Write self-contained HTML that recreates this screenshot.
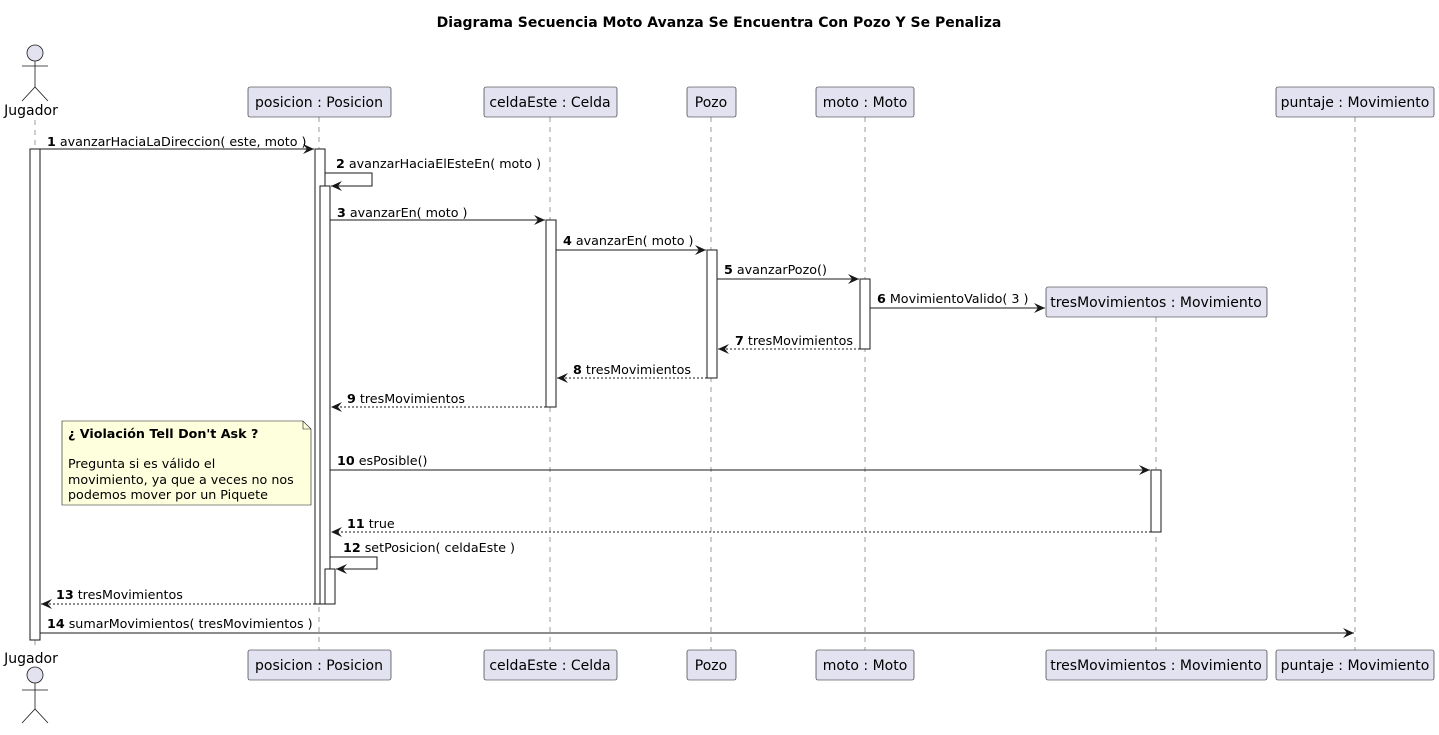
<!DOCTYPE html>
<html><head><meta charset="utf-8"><style>
html,body{margin:0;padding:0;background:#fff}
svg text{font-family:"DejaVu Sans","Liberation Sans",sans-serif;font-size:12.7px;fill:#000}
svg text.t{font-size:14px}
svg text.bx{font-size:14px}
.b{font-weight:bold}
.ll{stroke:#181818;stroke-width:0.6;stroke-dasharray:5,5;opacity:.7}
.box{fill:#E2E2F0;stroke:#181818;stroke-width:0.6}
.act{fill:#fff;stroke:#181818;stroke-width:1}
.m{stroke:#181818;stroke-width:1;fill:none}
.d{stroke:#181818;stroke-width:1;fill:none;stroke-dasharray:2,2}
</style></head><body>
<svg width="1439" height="730" xmlns="http://www.w3.org/2000/svg">
<defs><marker id="a" markerWidth="12" markerHeight="10" refX="11" refY="5" orient="auto" markerUnits="userSpaceOnUse"><path d="M0,0 L11,5 L0,10 L4,5 Z" fill="#181818"/></marker></defs>
<text x="719" y="27" text-anchor="middle" class="b t">Diagrama Secuencia Moto Avanza Se Encuentra Con Pozo Y Se Penaliza</text>
<line class="ll" x1="35" y1="120" x2="35" y2="650"/>
<line class="ll" x1="319" y1="117" x2="319" y2="650"/>
<line class="ll" x1="550" y1="117" x2="550" y2="650"/>
<line class="ll" x1="711" y1="117" x2="711" y2="650"/>
<line class="ll" x1="865" y1="117" x2="865" y2="650"/>
<line class="ll" x1="1156" y1="317" x2="1156" y2="650"/>
<line class="ll" x1="1355" y1="117" x2="1355" y2="650"/>
<g stroke="#181818" stroke-width="0.8" fill="none">
<circle cx="35" cy="53" r="8" fill="#E2E2F0"/><line x1="35" y1="61" x2="35" y2="87"/><line x1="22" y1="66" x2="48" y2="66"/><path d="M22,101 L35,87 L48,101"/>
<circle cx="35" cy="675" r="8" fill="#E2E2F0"/><line x1="35" y1="683" x2="35" y2="709"/><line x1="22" y1="690" x2="48" y2="690"/><path d="M22,723 L35,709 L48,723"/>
</g>
<text x="31" y="115" text-anchor="middle" class="bx">Jugador</text>
<text x="31" y="663" text-anchor="middle" class="bx">Jugador</text>
<rect class="box" x="248" y="87" width="143" height="30" rx="2"/><text x="319" y="107" text-anchor="middle" class="bx">posicion : Posicion</text>
<rect class="box" x="484" y="87" width="133" height="30" rx="2"/><text x="550" y="107" text-anchor="middle" class="bx">celdaEste : Celda</text>
<rect class="box" x="687" y="87" width="49" height="30" rx="2"/><text x="711" y="107" text-anchor="middle" class="bx">Pozo</text>
<rect class="box" x="816" y="87" width="98" height="30" rx="2"/><text x="865" y="107" text-anchor="middle" class="bx">moto : Moto</text>
<rect class="box" x="1276" y="87" width="158" height="30" rx="2"/><text x="1355" y="107" text-anchor="middle" class="bx">puntaje : Movimiento</text>
<rect class="box" x="1046" y="287" width="221" height="30" rx="2"/><text x="1156" y="307" text-anchor="middle" class="bx">tresMovimientos : Movimiento</text>
<rect class="box" x="248" y="650" width="143" height="30" rx="2"/><text x="319" y="670" text-anchor="middle" class="bx">posicion : Posicion</text>
<rect class="box" x="484" y="650" width="133" height="30" rx="2"/><text x="550" y="670" text-anchor="middle" class="bx">celdaEste : Celda</text>
<rect class="box" x="687" y="650" width="49" height="30" rx="2"/><text x="711" y="670" text-anchor="middle" class="bx">Pozo</text>
<rect class="box" x="816" y="650" width="98" height="30" rx="2"/><text x="865" y="670" text-anchor="middle" class="bx">moto : Moto</text>
<rect class="box" x="1046" y="650" width="221" height="30" rx="2"/><text x="1156" y="670" text-anchor="middle" class="bx">tresMovimientos : Movimiento</text>
<rect class="box" x="1276" y="650" width="158" height="30" rx="2"/><text x="1355" y="670" text-anchor="middle" class="bx">puntaje : Movimiento</text>
<rect class="act" x="30" y="149" width="10" height="491"/>
<rect class="act" x="315" y="149" width="10" height="455"/>
<rect class="act" x="320" y="186" width="10" height="418"/>
<rect class="act" x="325" y="569" width="10" height="35"/>
<rect class="act" x="546" y="220" width="10" height="187"/>
<rect class="act" x="707" y="250" width="10" height="128"/>
<rect class="act" x="860" y="279" width="10" height="70"/>
<rect class="act" x="1151" y="470" width="10" height="62"/>
<line class="m" x1="40" y1="149" x2="314" y2="149" marker-end="url(#a)"/>
<text x="47" y="146"><tspan class="b">1</tspan> avanzarHaciaLaDireccion( este, moto )</text>
<path class="m" d="M325,173 H372 V186 H331" marker-end="url(#a)"/>
<text x="336" y="168"><tspan class="b">2</tspan> avanzarHaciaElEsteEn( moto )</text>
<line class="m" x1="330" y1="220" x2="545" y2="220" marker-end="url(#a)"/>
<text x="337" y="217"><tspan class="b">3</tspan> avanzarEn( moto )</text>
<line class="m" x1="556" y1="250" x2="706" y2="250" marker-end="url(#a)"/>
<text x="563" y="245"><tspan class="b">4</tspan> avanzarEn( moto )</text>
<line class="m" x1="717" y1="279" x2="859" y2="279" marker-end="url(#a)"/>
<text x="724" y="274"><tspan class="b">5</tspan> avanzarPozo()</text>
<line class="m" x1="870" y1="308" x2="1045" y2="308" marker-end="url(#a)"/>
<text x="877" y="303"><tspan class="b">6</tspan> MovimientoValido( 3 )</text>
<line class="d" x1="860" y1="349" x2="718" y2="349" marker-end="url(#a)"/>
<text x="735" y="345"><tspan class="b">7</tspan> tresMovimientos</text>
<line class="d" x1="707" y1="378" x2="557" y2="378" marker-end="url(#a)"/>
<text x="573" y="374"><tspan class="b">8</tspan> tresMovimientos</text>
<line class="d" x1="546" y1="407" x2="331" y2="407" marker-end="url(#a)"/>
<text x="347" y="403"><tspan class="b">9</tspan> tresMovimientos</text>
<path d="M62,421 H303 L311,429 V505 H62 Z" fill="#FEFFDD" stroke="#181818" stroke-width="0.6"/>
<path d="M303,421 V429 H311" fill="none" stroke="#181818" stroke-width="0.6"/>
<text x="68" y="438" class="b">¿ Violación Tell Don't Ask ?</text>
<text x="68" y="468">Pregunta si es válido el</text>
<text x="68" y="484">movimiento, ya que a veces no nos</text>
<text x="68" y="499">podemos mover por un Piquete</text>
<line class="m" x1="330" y1="470" x2="1150" y2="470" marker-end="url(#a)"/>
<text x="337" y="465"><tspan class="b">10</tspan> esPosible()</text>
<line class="d" x1="1151" y1="532" x2="331" y2="532" marker-end="url(#a)"/>
<text x="347" y="528"><tspan class="b">11</tspan> true</text>
<path class="m" d="M330,557 H377 V569 H336" marker-end="url(#a)"/>
<text x="343" y="552"><tspan class="b">12</tspan> setPosicion( celdaEste )</text>
<line class="d" x1="315" y1="604" x2="41" y2="604" marker-end="url(#a)"/>
<text x="56" y="599"><tspan class="b">13</tspan> tresMovimientos</text>
<line class="m" x1="40" y1="633" x2="1354" y2="633" marker-end="url(#a)"/>
<text x="47" y="628"><tspan class="b">14</tspan> sumarMovimientos( tresMovimientos )</text>
</svg>
</body></html>
